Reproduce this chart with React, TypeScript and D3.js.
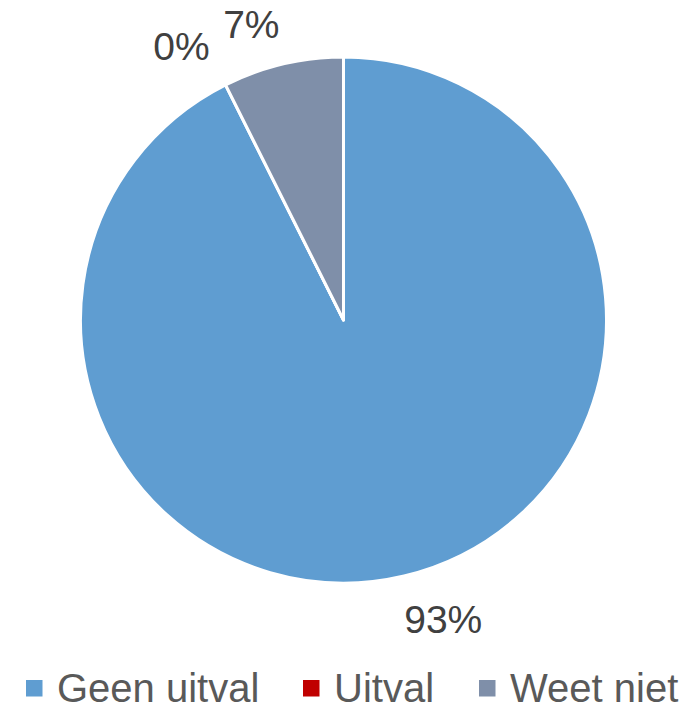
import React from "react";
import * as d3 from "d3";

const categories = ["Geen uitval", "Uitval", "Weet niet"];
const values = [92.6, 0, 7.4];
const colors = ["#5F9DD1", "#C00000", "#7F8FA9"];

const W = 692;
const H = 710;
const cx = 343.5;
const cy = 320;
const R = 263;
const FONT = "'Liberation Sans', Arial, sans-serif";

export default function App() {
  const data = categories.map((c, i) => ({ c, v: values[i], color: colors[i] }));
  const pie = d3.pie<any>().value((d) => d.v).sort(null).startAngle(0).endAngle(2 * Math.PI);
  const arcs = pie(data);
  const arc = d3.arc<any>().innerRadius(0).outerRadius(R);
  const labelArc = d3.arc<any>().innerRadius(R + 18).outerRadius(R + 18);

  const legendX = [26, 303, 479];

  return (
    <svg width={W} height={H} style={{ position: "absolute", left: 0, top: 0 }}>
      <rect width={W} height={H} fill="#fff" />
      <g transform={`translate(${cx},${cy})`}>
        {arcs.map((a, i) => (
          <path key={i} d={arc(a) || ""} fill={a.data.color} stroke="#fff" strokeWidth={3} strokeLinejoin="round" />
        ))}
        {arcs.map((a, i) => {
          const [x, y] = labelArc.centroid(a);
          const mid = (a.startAngle + a.endAngle) / 2;
          const s = Math.sin(mid);
          const left = x < 0;
          const top = y < 0;
          const dx = left ? 10 + 40 * s : -4;
          return (
            <text
              key={"l" + i}
              x={x + dx}
              y={top ? y - 9 : y + 39.5}
              textAnchor={left ? "end" : "start"}
              fontFamily={FONT}
              fontSize={39}
              fill="#404040"
            >
              {d3.format(".0f")(a.data.v) + "%"}
            </text>
          );
        })}
      </g>
      <g>
        {data.map((d, i) => (
          <g key={i} transform={`translate(${legendX[i]},0)`}>
            <rect x={0} y={680} width={16.5} height={16.5} fill={d.color} />
            <text x={31} y={702} fontFamily={FONT} fontSize={40} fill="#595959">
              {d.c}
            </text>
          </g>
        ))}
      </g>
    </svg>
  );
}
